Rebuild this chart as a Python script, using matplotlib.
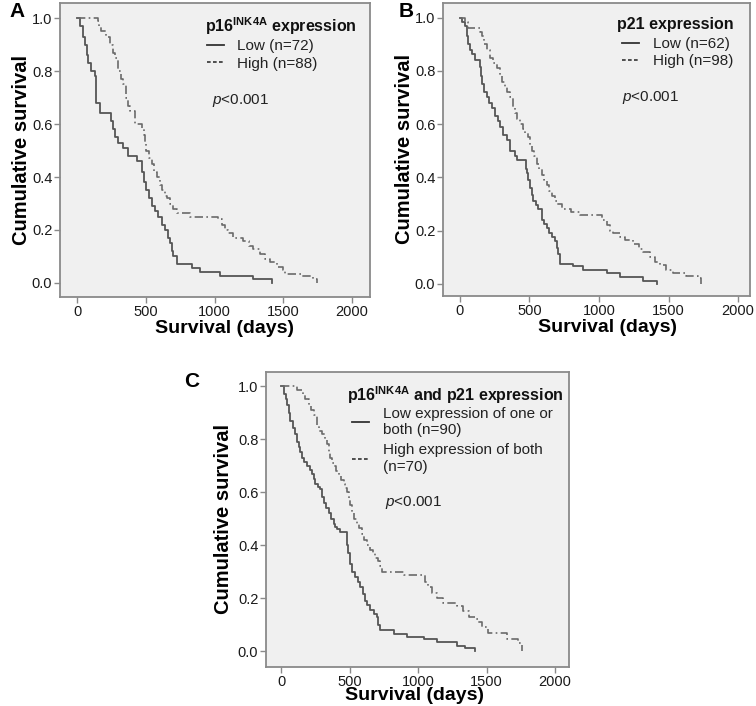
import matplotlib
matplotlib.use("Agg")
import matplotlib.pyplot as plt
from matplotlib.lines import Line2D

plt.rcParams['font.family'] = ['Liberation Sans', 'DejaVu Sans']
plt.rcParams['mathtext.fontset'] = 'custom'
plt.rcParams['mathtext.rm'] = 'Liberation Sans'
plt.rcParams['mathtext.it'] = 'Liberation Sans:italic'
plt.rcParams['mathtext.bf'] = 'Liberation Sans:bold'

# Kaplan-Meier steps: (day, cumulative survival)
a_low_t = [0, 20, 40, 56, 70, 80, 105, 129, 135, 141, 165, 250, 262, 275, 299, 335, 372, 433, 476, 490, 505,
           520, 542, 565, 590, 615, 640, 660, 675, 690, 700, 725, 833, 895, 1040, 1283, 1417]
a_low_s = [1.0, 0.97, 0.93, 0.90, 0.86, 0.83, 0.80, 0.78, 0.72, 0.68, 0.64, 0.61, 0.58, 0.55, 0.53, 0.51, 0.48,
           0.46, 0.42, 0.38, 0.35, 0.32, 0.29, 0.27, 0.25, 0.22, 0.20, 0.17, 0.15, 0.12, 0.10, 0.07, 0.056,
           0.042, 0.028, 0.014, 0.0]
a_high_t = [0, 150, 160, 175, 214, 238, 260, 275, 300, 320, 335, 355, 370, 384, 420, 470, 485, 493, 505, 525,
            542, 560, 578, 600, 615, 640, 651, 675, 700, 725, 820, 1028, 1052, 1075, 1100, 1137, 1210, 1250,
            1283, 1332, 1370, 1405, 1453, 1500, 1514, 1635, 1720, 1745]
a_high_s = [1.0, 0.99, 0.97, 0.95, 0.93, 0.90, 0.87, 0.85, 0.80, 0.77, 0.75, 0.70, 0.67, 0.65, 0.60, 0.58,
            0.56, 0.53, 0.50, 0.47, 0.45, 0.42, 0.40, 0.37, 0.35, 0.33, 0.32, 0.30, 0.28, 0.265, 0.25, 0.24,
            0.22, 0.20, 0.19, 0.17, 0.16, 0.14, 0.13, 0.11, 0.09, 0.08, 0.06, 0.05, 0.035, 0.025, 0.015, 0.0]

b_low_t = [0, 12, 36, 48, 60, 72, 84, 108, 144, 150, 156, 175, 192, 210, 228, 251, 270, 287, 311, 335, 359,
           395, 407, 475, 479, 490, 503, 515, 527, 545, 563, 587, 605, 623, 640, 659, 680, 695, 705, 719, 815,
           886, 1054, 1150, 1317, 1415]
b_low_s = [1.0, 0.985, 0.97, 0.93, 0.90, 0.88, 0.865, 0.84, 0.815, 0.78, 0.75, 0.72, 0.70, 0.68, 0.66, 0.63,
           0.61, 0.59, 0.56, 0.54, 0.50, 0.48, 0.465, 0.43, 0.415, 0.39, 0.36, 0.335, 0.31, 0.295, 0.28, 0.24,
           0.225, 0.21, 0.19, 0.175, 0.16, 0.135, 0.11, 0.075, 0.065, 0.05, 0.04, 0.025, 0.01, 0.0]
b_high_t = [0, 36, 60, 144, 156, 175, 192, 215, 240, 265, 287, 305, 323, 340, 359, 383, 395, 407, 430, 455,
            470, 491, 503, 515, 530, 551, 570, 587, 605, 623, 640, 659, 680, 695, 731, 802, 862, 1018, 1054,
            1080, 1102, 1150, 1186, 1245, 1290, 1317, 1365, 1400, 1437, 1485, 1530, 1629, 1713, 1737]
b_high_s = [1.0, 0.985, 0.96, 0.945, 0.93, 0.90, 0.88, 0.85, 0.83, 0.81, 0.78, 0.76, 0.74, 0.72, 0.70, 0.66,
            0.64, 0.62, 0.60, 0.58, 0.565, 0.55, 0.52, 0.50, 0.48, 0.45, 0.43, 0.41, 0.39, 0.37, 0.35, 0.33,
            0.31, 0.30, 0.28, 0.27, 0.26, 0.24, 0.22, 0.20, 0.19, 0.175, 0.165, 0.15, 0.13, 0.12, 0.10, 0.08,
            0.07, 0.05, 0.04, 0.03, 0.02, 0.0]

c_low_t = [0, 24, 35, 44, 55, 68, 85, 104, 115, 129, 140, 153, 170, 190, 210, 226, 240, 250, 270, 287, 300,
           311, 330, 348, 365, 384, 396, 408, 433, 481, 490, 505, 520, 542, 560, 578, 595, 615, 630, 651, 675,
           700, 710, 724, 821, 918, 1040, 1137, 1283, 1344, 1417]
c_low_s = [1.0, 0.97, 0.95, 0.93, 0.90, 0.87, 0.84, 0.82, 0.79, 0.77, 0.75, 0.73, 0.715, 0.70, 0.685, 0.67,
           0.65, 0.63, 0.62, 0.61, 0.58, 0.56, 0.54, 0.52, 0.50, 0.48, 0.47, 0.46, 0.45, 0.40, 0.37, 0.33, 0.30,
           0.28, 0.26, 0.24, 0.215, 0.19, 0.175, 0.155, 0.14, 0.13, 0.10, 0.08, 0.065, 0.055, 0.045, 0.035,
           0.02, 0.01, 0.0]
c_high_t = [0, 117, 160, 177, 202, 220, 238, 262, 280, 299, 320, 335, 348, 360, 372, 384, 400, 420, 440, 457,
            470, 481, 493, 505, 520, 535, 554, 570, 590, 608, 627, 651, 670, 688, 705, 724, 740, 900, 1051,
            1073, 1100, 1139, 1182, 1285, 1328, 1370, 1416, 1438, 1470, 1511, 1650, 1730, 1759]
c_high_s = [1.0, 0.985, 0.97, 0.95, 0.93, 0.91, 0.89, 0.85, 0.83, 0.82, 0.80, 0.78, 0.75, 0.73, 0.71, 0.70,
            0.68, 0.66, 0.645, 0.63, 0.615, 0.60, 0.575, 0.55, 0.52, 0.50, 0.48, 0.465, 0.44, 0.42, 0.40, 0.38,
            0.37, 0.35, 0.34, 0.32, 0.30, 0.287, 0.26, 0.24, 0.22, 0.20, 0.18, 0.17, 0.15, 0.13, 0.12, 0.11,
            0.09, 0.07, 0.045, 0.03, 0.0]

legend_titles = ['p16$^{\\mathbf{INK4A}}$ expression', 'p21 expression',
                 'p16$^{\\mathbf{INK4A}}$ and p21 expression']
low_labels = ['Low (n=72)', 'Low (n=62)', 'Low expression of one or\nboth (n=90)']
high_labels = ['High (n=88)', 'High (n=98)', 'High expression of both\n(n=70)']
panel_letters = ['A', 'B', 'C']

curves = [(a_low_t, a_low_s, a_high_t, a_high_s),
          (b_low_t, b_low_s, b_high_t, b_high_s),
          (c_low_t, c_low_s, c_high_t, c_high_s)]

W, H = 756, 706
fig = plt.figure(figsize=(W / 100, H / 100), dpi=100)

# frame boxes in pixels: left, top, right, bottom
frames = [(60, 3, 370, 297), (443, 3, 750, 296), (266, 372, 569, 667)]
xlims = [(-124, 2131), (-122, 2086), (-110, 2102)]
ylims = [(-0.053, 1.057), (-0.046, 1.055), (-0.060, 1.053)]
ylab_x = [-0.093, -0.095, -0.11]
xlab = [(0.532, -0.078), (0.537, -0.078), (0.49, -0.068)]
title_pos = [(0.468, 0.959), (0.567, 0.953), (0.267, 0.959)]
leg_pos = [(0.474, 0.876), (0.583, 0.884), (0.284, 0.881)]
leg_spacing = [0.2, 0.2, 0.4]
p_pos = [(0.49, 0.67), (0.583, 0.679), (0.393, 0.556)]
letter_pos = [(9, 2), (399, 2), (184, 372)]

frame_col = '#8a8a8a'
line_col = '#555555'

for i in range(3):
    l, t, r, b = frames[i]
    ax = fig.add_axes([l / W, 1 - b / H, (r - l) / W, (b - t) / H])
    ax.set_facecolor('#f0f0f0')
    lt, ls, ht, hs = curves[i]
    ax.step(lt, ls, where='post', color=line_col, lw=1.3)
    ax.step(ht, hs, where='post', color='#6a6a6a', lw=1.2, linestyle=(0, (5, 2, 1, 2)))
    ax.set_xlim(*xlims[i])
    ax.set_ylim(*ylims[i])
    ax.set_xticks([0, 500, 1000, 1500, 2000])
    ax.set_yticks([0.0, 0.2, 0.4, 0.6, 0.8, 1.0])
    ax.set_yticklabels(['0.0', '0.2', '0.4', '0.6', '0.8', '1.0'])
    for sp in ax.spines.values():
        sp.set_color(frame_col)
        sp.set_linewidth(1.3)
    ax.tick_params(direction='out', length=4, width=1, color=frame_col, labelsize=10.5,
                   labelcolor='#1a1a1a', pad=1.5)
    ax.set_ylabel('Cumulative survival', fontsize=14.5, fontweight='bold')
    ax.yaxis.set_label_coords(ylab_x[i], 0.5)
    ax.set_xlabel('Survival (days)', fontsize=14, fontweight='bold', va='top')
    ax.xaxis.set_label_coords(*xlab[i])

    # legend: bold title as its own text, entries below
    ax.text(title_pos[i][0], title_pos[i][1], legend_titles[i], transform=ax.transAxes,
            fontsize=11.5, fontweight='bold', va='top', ha='left', color='#111111')
    handles = [Line2D([], [], color='#333333', lw=1.3),
               Line2D([], [], color='#333333', lw=1.2, linestyle=(0, (2.2, 1.4)))]
    leg = ax.legend(handles, [low_labels[i], high_labels[i]], fontsize=11,
                    loc='upper left', bbox_to_anchor=leg_pos[i], frameon=False, borderpad=0,
                    borderaxespad=0, handlelength=1.1, handletextpad=0.9,
                    labelspacing=leg_spacing[i], alignment='left')
    for txt in leg.get_texts():
        txt.set_color('#222222')

    ax.text(p_pos[i][0], p_pos[i][1], '$\\mathit{p}$<0.001', transform=ax.transAxes,
            fontsize=11, va='center', ha='left', color='#222222')

    fig.text(letter_pos[i][0] / W, 1 - letter_pos[i][1] / H, panel_letters[i],
             fontsize=15, fontweight='bold', va='top', ha='left')

fig.savefig('out.png', dpi=100)
